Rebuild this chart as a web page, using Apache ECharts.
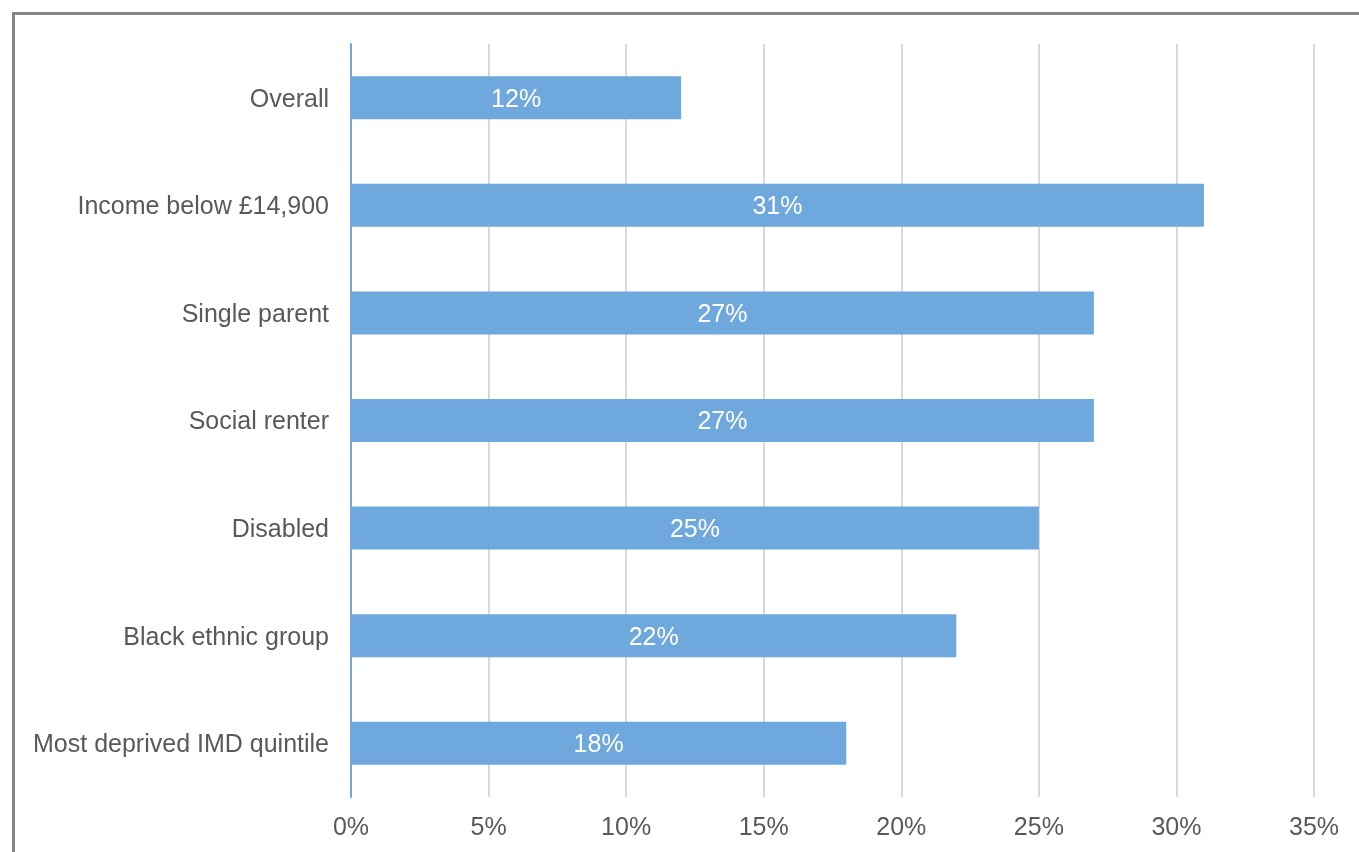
<!DOCTYPE html>
<html>
<head>
<meta charset="utf-8">
<style>
  html, body { margin: 0; padding: 0; background: #fff; }
  #chart { width: 1359px; height: 852px; }
</style>
<script src="https://cdn.jsdelivr.net/npm/echarts@6/dist/echarts.min.js"></script>
</head>
<body>
<div id="chart"></div>
<script>
// Share of each group, in percent
const categories = [
  'Overall',
  'Income below £14,900',
  'Single parent',
  'Social renter',
  'Disabled',
  'Black ethnic group',
  'Most deprived IMD quintile'
];
const values = [12, 31, 27, 27, 25, 22, 18];

const axisMin = 0;
const axisMax = 35;
const axisStep = 5;

const chart = echarts.init(document.getElementById('chart'), null, { renderer: 'canvas' });

const textFont = 'Liberation Sans, Arial, sans-serif';

chart.setOption({
  backgroundColor: '#ffffff',
  animation: false,
  graphic: [{
    type: 'rect',
    shape: { x: 13.5, y: 13.5, width: 1400, height: 900 },
    style: { fill: 'none', stroke: '#858585', lineWidth: 3 },
    silent: true,
    z: 10
  }],
  grid: { left: 351, right: 45, top: 44, bottom: 55, containLabel: false },
  xAxis: {
    type: 'value',
    min: axisMin,
    max: axisMax,
    interval: axisStep,
    axisLine: { show: false },
    axisTick: { show: false },
    splitLine: { show: true, lineStyle: { color: '#d9d9d9', width: 2 } },
    axisLabel: {
      formatter: v => v + '%',
      color: '#595959',
      fontSize: 25,
      fontFamily: textFont,
      margin: 19
    }
  },
  yAxis: {
    type: 'category',
    data: categories,
    inverse: true,
    axisLine: { show: true, lineStyle: { color: '#6fa8dc', width: 2 } },
    axisTick: { show: false },
    axisLabel: {
      margin: 22,
      formatter: v => '{c|' + v + '}',
      rich: {
        c: {
          color: '#595959',
          fontSize: 25,
          fontFamily: textFont,
          padding: [4, 0, 0, 0]
        }
      }
    }
  },
  series: [{
    type: 'bar',
    data: values,
    barWidth: 43,
    itemStyle: { color: '#6fa8dc' },
    label: {
      show: true,
      position: 'inside',
      offset: [0, 2],
      formatter: p => p.value + '%',
      color: '#ffffff',
      fontSize: 25,
      fontFamily: textFont
    }
  }]
});
</script>
</body>
</html>
